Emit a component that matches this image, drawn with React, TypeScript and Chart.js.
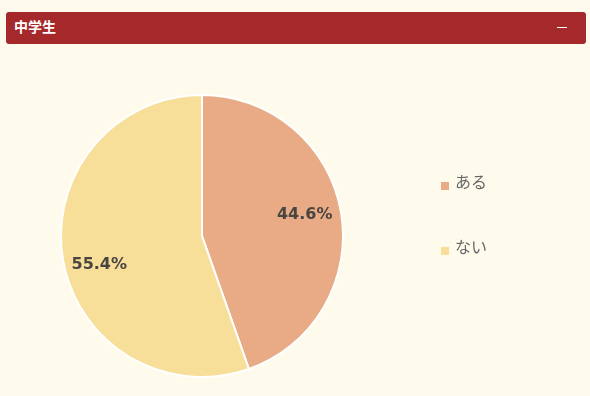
import React, { useEffect, useRef } from "react";
import { Chart, registerables } from "chart.js";

Chart.register(...registerables);

const title = "中学生";
const categories = ["ある", "ない"];
const values = [44.6, 55.4];
const colors = ["#e9ab85", "#f7df9a"];

const BG = "#fffbec";

const sliceLabels = {
  id: "sliceLabels",
  afterDatasetsDraw(chart: any) {
    const ctx = chart.ctx;
    const meta = chart.getDatasetMeta(0);
    const data = chart.data.datasets[0].data as number[];
    const total = data.reduce((a, b) => a + b, 0);
    ctx.save();
    ctx.font = "bold 16px 'DejaVu Sans'";
    ctx.fillStyle = "#4a4540";
    ctx.textAlign = "center";
    ctx.textBaseline = "middle";
    meta.data.forEach((arc: any, i: number) => {
      const p = arc.getProps(["x", "y", "startAngle", "endAngle", "outerRadius"], true);
      const mid = (p.startAngle + p.endAngle) / 2 - (4 * Math.PI) / 180;
      const r = p.outerRadius * 0.75;
      const pct = ((data[i] / total) * 100).toFixed(1) + "%";
      ctx.fillText(pct, p.x + Math.cos(mid) * r, p.y + Math.sin(mid) * r + 4);
    });
    ctx.restore();
  },
};

const sideLegend = {
  id: "sideLegend",
  afterDraw(chart: any) {
    const ctx = chart.ctx;
    const labels = chart.data.labels as string[];
    const bg = chart.data.datasets[0].backgroundColor as string[];
    const x = 441;
    const top = 138;
    const gap = 65;
    const box = 8;
    ctx.save();
    ctx.font = "16px 'Noto Sans CJK JP'";
    ctx.textAlign = "left";
    ctx.textBaseline = "middle";
    labels.forEach((lab, i) => {
      const y = top + i * gap;
      ctx.fillStyle = bg[i];
      ctx.fillRect(x, y, box, box);
      ctx.fillStyle = "#666666";
      ctx.fillText(lab, x + 14, y);
    });
    ctx.restore();
  },
};

export default function App() {
  const ref = useRef<HTMLCanvasElement | null>(null);

  useEffect(() => {
    if (!ref.current) return;
    const chart = new Chart(ref.current, {
      type: "pie",
      data: {
        labels: categories,
        datasets: [
          {
            data: values,
            backgroundColor: colors,
            borderColor: "#ffffff",
            borderWidth: 2,
          },
        ],
      },
      options: {
        responsive: false,
        animation: false,
        devicePixelRatio: 1,
        layout: { padding: { left: 60, right: 246, top: 50, bottom: 18 } },
        plugins: {
          legend: { display: false },
          tooltip: { enabled: false },
          title: { display: false },
        },
      },
      plugins: [sliceLabels, sideLegend],
    });
    return () => chart.destroy();
  }, []);

  return (
    <div
      style={{
        position: "fixed",
        left: 0,
        top: 0,
        width: 590,
        height: 396,
        background: BG,
        overflow: "hidden",
      }}
    >
      <div
        style={{
          position: "absolute",
          left: 6,
          top: 12,
          width: 580,
          height: 32,
          background: "#a5292a",
          borderRadius: 3,
          color: "#ffffff",
          fontFamily: "'Noto Sans CJK JP', sans-serif",
          fontWeight: 700,
          fontSize: 14,
          lineHeight: "29px",
          boxSizing: "border-box",
          paddingLeft: 8,
        }}
      >
        {title}
        <div
          style={{
            position: "absolute",
            right: 19,
            top: 15,
            width: 10,
            height: 1,
            background: "#ffffff",
          }}
        />
      </div>
      <canvas
        ref={ref}
        width={590}
        height={352}
        style={{ position: "absolute", left: 0, top: 44, width: 590, height: 352 }}
      />
    </div>
  );
}
